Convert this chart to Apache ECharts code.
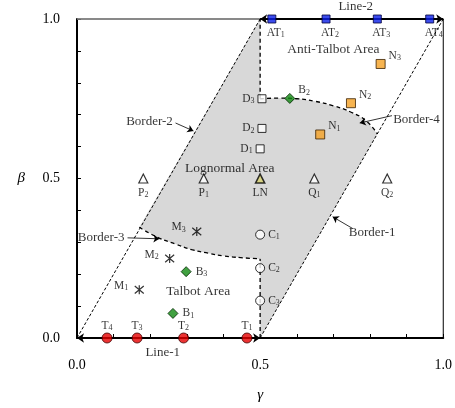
<!DOCTYPE html>
<html>
<head>
<meta charset="utf-8">
<script src="https://cdn.jsdelivr.net/npm/echarts@6/dist/echarts.min.js"></script>
<style>
  html, body { margin: 0; padding: 0; background: #fff; }
  #chart { width: 455px; height: 408px; }
</style>
</head>
<body>
<div id="chart"></div>
<script>
// point groups (gamma, beta)
const atGamma = [0.532, 0.680, 0.820, 0.963]
const atBeta = [1, 1, 1, 1]
const tGamma = [0.464, 0.291, 0.164, 0.082]
const tBeta = [0, 0, 0, 0]
const bGamma = [0.262, 0.581, 0.298]
const bBeta = [0.077, 0.751, 0.208]
const mGamma = [0.170, 0.253, 0.327]
const mBeta = [0.151, 0.249, 0.334]
const cGamma = [0.500, 0.500, 0.500]
const cBeta = [0.324, 0.219, 0.117]
const dGamma = [0.500, 0.505, 0.505]
const dBeta = [0.593, 0.657, 0.750]
const nGamma = [0.664, 0.748, 0.829]
const nBeta = [0.638, 0.736, 0.859]
const pqNames = [['P', '2'], ['P', '1'], ['LN', ''], ['Q', '1'], ['Q', '2']]
const pqGamma = [0.181, 0.346, 0.500, 0.648, 0.847]
const pqBeta = [0.5, 0.5, 0.5, 0.5, 0.5]

// borders of the areas
const border1 = [[0.5, 0], [1, 1]]
const border2 = [[0, 0], [0.5, 1]]
const border3 = [[0.170, 0.347], [0.223, 0.314], [0.268, 0.295], [0.313, 0.277],
  [0.358, 0.266], [0.402, 0.257], [0.447, 0.252], [0.5, 0.248]]
const border4 = [[0.5, 0.750], [0.55, 0.752], [0.60, 0.750], [0.65, 0.742],
  [0.70, 0.728], [0.75, 0.707], [0.79, 0.680], [0.82, 0.640]]
const lowerDivider = [[0.5, 0], [0.5, 0.248]]
const upperDivider = [[0.5, 0.75], [0.5, 1]]
const line1 = [[0, 0], [0.5, 0]]
const line2 = [[0.5, 1], [1, 1]]
const topLeftEdge = [[0, 1], [0.5, 1]]

const tickLabels = [0, 0.5, 1]

const FONT = 'Liberation Serif'

// lognormal area polygon
const lognormalArea = [[0.5, 0], border4[border4.length - 1]]
  .concat(border4.slice().reverse(), [[0.5, 1], border3[0]], border3)

const zip = (xs, ys) => xs.map((x, i) => [x, ys[i]])

const subRich = {
  m: { fontFamily: FONT, fontSize: 11.5, color: '#000', verticalAlign: 'top', lineHeight: 12 },
  s: { fontFamily: FONT, fontSize: 8, color: '#000', verticalAlign: 'bottom', lineHeight: 8, padding: [7, 0, 0, 0] }
}
const subLabel = (name, idx) => idx ? `{m|${name}}{s|${idx}}` : `{m|${name}}`

function pointSeries(prefix, xs, ys, symbol, size, style, label, perPoint) {
  return {
    type: 'scatter',
    symbol: symbol,
    symbolSize: size,
    clip: false,
    z: 5,
    itemStyle: style,
    data: zip(xs, ys).map((v, i) => {
      const item = { value: v, name: Array.isArray(prefix) ? prefix[i].join('|') : prefix + '|' + (i + 1) }
      if (perPoint && perPoint[i]) item.label = perPoint[i]
      return item
    }),
    label: Object.assign({
      show: true,
      rich: subRich,
      formatter: p => {
        const parts = p.name.split('|')
        return subLabel(parts[0], parts[1])
      }
    }, label)
  }
}

function dashed(data, width, dash, smooth) {
  return {
    type: 'line',
    data: data,
    smooth: smooth || false,
    symbol: 'none',
    clip: false,
    z: 3,
    lineStyle: { color: '#000', width: width, type: dash }
  }
}

function arrow(from, to) {
  return [{ coord: from }, { coord: to }]
}

const chart = echarts.init(document.getElementById('chart'))

const option = {
  animation: false,
  grid: { left: 77, right: 6, top: 19, bottom: 67, show: true, borderColor: '#000', borderWidth: 1 },
  xAxis: {
    type: 'value', min: 0, max: 1, interval: 0.1,
    name: 'γ', nameLocation: 'middle', nameGap: 50,
    nameTextStyle: { fontFamily: FONT, fontStyle: 'italic', fontSize: 15, color: '#000' },
    axisLine: { lineStyle: { color: '#000', width: 2 } },
    axisTick: { inside: true, length: 4, lineStyle: { color: '#000' } },
    splitLine: { show: false },
    axisLabel: {
      margin: 20, fontFamily: FONT, fontSize: 14, color: '#000',
      formatter: v => tickLabels.some(t => Math.abs(t - v) < 1e-6) ? v.toFixed(1) : ''
    }
  },
  yAxis: {
    type: 'value', min: 0, max: 1, interval: 0.1,
    name: 'β', nameLocation: 'middle', nameGap: 52, nameRotate: 0,
    nameTextStyle: { fontFamily: FONT, fontStyle: 'italic', fontSize: 15, color: '#000' },
    axisLine: { lineStyle: { color: '#000', width: 2 } },
    axisTick: { inside: true, length: 4, lineStyle: { color: '#000' } },
    splitLine: { show: false },
    axisLabel: {
      margin: 17, fontFamily: FONT, fontSize: 14, color: '#000',
      formatter: v => tickLabels.some(t => Math.abs(t - v) < 1e-6) ? v.toFixed(1) : ''
    }
  },
  series: [
    {
      type: 'custom',
      z: 1,
      clip: false,
      silent: true,
      data: [[0, 0]],
      renderItem: (params, api) => ({
        type: 'polygon',
        shape: { points: lognormalArea.map(p => api.coord(p)) },
        style: { fill: '#d8d8d8' }
      })
    },
    // top edge left of Line-2
    {
      type: 'line', data: topLeftEdge, symbol: 'none', clip: false, z: 2,
      lineStyle: { color: '#8c8c8c', width: 1.5 }
    },
    dashed(border1, 1, [3, 2]),
    dashed(border2, 1, [3, 2]),
    dashed(border3, 1.3, [4, 3], true),
    dashed(border4, 1.3, [4, 3], true),
    dashed(lowerDivider, 1.3, [4, 3]),
    dashed(upperDivider, 1.3, [4, 3]),
    // Line-1 / Line-2 and annotation arrows
    {
      type: 'line', data: [], z: 4,
      markLine: {
        silent: true, animation: false,
        symbol: ['arrow', 'arrow'], symbolSize: 7,
        label: { show: false },
        lineStyle: { color: '#000', width: 2, type: 'solid' },
        data: [arrow(line1[0], line1[1]), arrow(line2[0], line2[1])]
      }
    },
    {
      type: 'line', data: [], z: 4,
      markLine: {
        silent: true, animation: false,
        symbol: ['none', 'arrow'], symbolSize: 6,
        label: { show: false },
        lineStyle: { color: '#000', width: 0.8, type: 'solid' },
        data: [
          arrow([0.269, 0.674], [0.318, 0.649]),
          arrow([0.860, 0.697], [0.772, 0.674]),
          arrow([0.138, 0.314], [0.225, 0.311]),
          arrow([0.753, 0.343], [0.698, 0.380])
        ]
      }
    },
    // text notes
    {
      type: 'scatter', symbolSize: 1, clip: false, z: 6,
      itemStyle: { color: 'rgba(0,0,0,0)' },
      label: { show: true, position: 'inside', formatter: '{b}', fontFamily: FONT, fontSize: 13, color: '#000' },
      data: [
        { name: 'Lognormal Area', value: [0.417, 0.531], label: { fontSize: 13.5 } },
        { name: 'Anti-Talbot Area', value: [0.700, 0.904], label: { fontSize: 13.5 } },
        { name: 'Talbot Area', value: [0.331, 0.146], label: { fontSize: 13.5 } },
        { name: 'Line-1', value: [0.234, -0.046] },
        { name: 'Line-2', value: [0.761, 1.038] },
        { name: 'Border-1', value: [0.806, 0.331] },
        { name: 'Border-2', value: [0.198, 0.677] },
        { name: 'Border-3', value: [0.066, 0.314] },
        { name: 'Border-4', value: [0.927, 0.686] }
      ]
    },
    pointSeries('AT', atGamma, atBeta, 'rect', 8,
      { color: '#0b1fe8', borderColor: '#00003a', borderWidth: 1 },
      { position: 'bottom', distance: 3, offset: [4, 0] }),
    pointSeries('T', tGamma, tBeta, 'circle', 10,
      { color: '#e60000', borderColor: '#400000', borderWidth: 1 },
      { position: 'top', distance: 1 }),
    pointSeries('B', bGamma, bBeta, 'diamond', 10,
      { color: '#128a12', borderColor: '#002800', borderWidth: 1 },
      { position: 'right', distance: 4 },
      [null, { position: 'right', offset: [-1, -8] }, null]),
    pointSeries('M', mGamma, mBeta, 'path://M0,0L10,10M10,0L0,10M5,-1L5,11', 9,
      { color: 'none', borderColor: '#000', borderWidth: 1.2 },
      { position: 'left', distance: 4, offset: [0, -4] }),
    pointSeries('C', cGamma, cBeta, 'circle', 9,
      { color: '#fff', borderColor: '#000', borderWidth: 1 },
      { position: 'right', distance: 3 }),
    pointSeries('D', dGamma, dBeta, 'rect', 8,
      { color: '#fff', borderColor: '#000', borderWidth: 1 },
      { position: 'left', distance: 3 }),
    pointSeries('N', nGamma, nBeta, 'rect', 9,
      { color: '#f5a124', borderColor: '#3a2000', borderWidth: 1 },
      { position: 'right', distance: 3, offset: [0, -8] }),
    pointSeries(pqNames, pqGamma, pqBeta, 'triangle', 9,
      { color: '#fff', borderColor: '#000', borderWidth: 1.2 },
      { position: 'bottom', distance: 3 },
      [null, null, { position: 'bottom' }, null, null])
  ]
}

// LN marker is drawn with a yellowish fill
option.series[option.series.length - 1].data[2].itemStyle = { color: '#d8d270', borderColor: '#000', borderWidth: 1.6 }

chart.setOption(option)
window.addEventListener('resize', () => chart.resize())
</script>
</body>
</html>
